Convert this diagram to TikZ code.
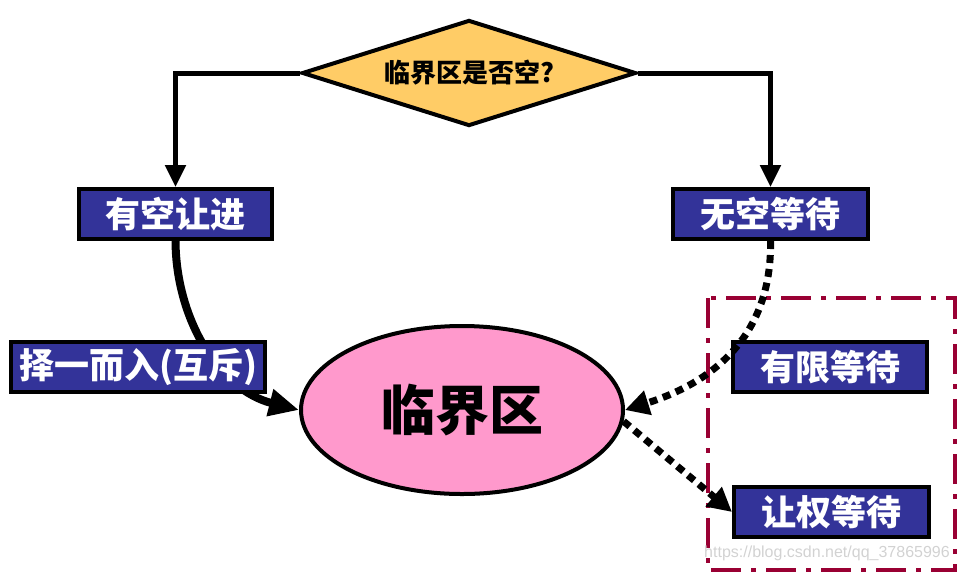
\documentclass[tikz,border=0pt]{standalone}
\usepackage{fontspec}
\usepackage{tikz}
\usetikzlibrary{shapes.geometric,arrows.meta}
\newfontfamily\cjk{Noto Sans CJK SC}
\newfontfamily\wmfont{Liberation Sans}
\definecolor{boxblue}{HTML}{333399}
\definecolor{qyellow}{HTML}{FFCC66}
\definecolor{cspink}{HTML}{FF99CC}
\definecolor{regred}{HTML}{990033}
\tikzstyle{box}=[rectangle,draw=black,line width=4pt,fill=boxblue,text=white,minimum height=50pt,inner sep=0pt,font=\cjk\bfseries\fontsize{35}{35}\selectfont]
\tikzstyle{decision}=[diamond,draw=black,line width=4pt,fill=qyellow,aspect=3.07,minimum width=334pt,minimum height=106pt,inner sep=0pt,font=\cjk\bfseries\fontsize{26}{26}\selectfont]
\tikzstyle{flow}=[line width=5pt,-{Triangle[length=22pt,width=20pt]}]
\tikzstyle{wait}=[line width=7pt,dash pattern=on 8pt off 6pt,-{Triangle[length=24pt,width=24pt]}]

\begin{document}
\begin{tikzpicture}[x=1pt,y=-1pt]
\useasboundingbox (0,0) rectangle (960,574);
\node[decision] at (469, 73) (q) {临界区是否空?};
\node[box,minimum width=193pt] at (175.5, 214) (yes) {有空让进};
\node[box,minimum width=195pt] at (770.5, 214) (no) {无空等待};
\node[ellipse,draw=black,line width=4pt,fill=cspink,minimum width=322pt,minimum height=168pt,font=\cjk\bfseries\fontsize{54}{54}\selectfont] at (462, 410) (cs) {临界区};
\draw[regred,line width=4pt,dash pattern=on 30pt off 10pt on 5pt off 10pt] (708, 298) rectangle (955, 570);
\node[box,minimum width=194pt] at (830, 367) (bounded) {有限等待};
\node[box,minimum width=195pt] at (831.5, 512) (yield) {让权等待};
\draw[flow] (q.west) -| (yes.north);
\draw[flow] (q.east) -| (no.north);
\draw[line width=8pt,-{Triangle[length=30pt,width=26pt]}] (yes.south) .. controls (176, 320) and (220, 390) .. (cs.west);
\node[box,minimum width=254pt] at (138, 367) (mutex) {择一而入(互斥)};
\draw[wait] (no.south) .. controls (772, 330) and (720, 380) .. (cs.east);
\draw[wait] (cs.-4) -- (yield.west);
\node[text=gray!35,font=\wmfont\fontsize{16}{16}\selectfont] at (827, 553) (wm) {https://blog.csdn.net/qq\_37865996};
\end{tikzpicture}
\end{document}
